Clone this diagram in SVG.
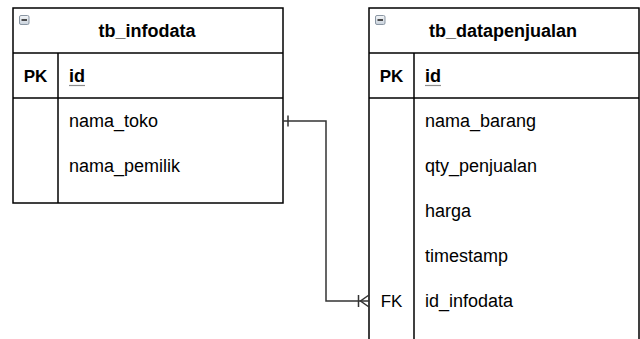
<svg xmlns="http://www.w3.org/2000/svg" width="640" height="339" viewBox="0 0 640 339">
  <defs>
    <linearGradient id="iconFill" x1="0" y1="0" x2="0" y2="1">
      <stop offset="0" stop-color="#f4f6f8"/>
      <stop offset="1" stop-color="#c9d2dc"/>
    </linearGradient>
    <g id="collapse">
      <rect x="0.5" y="0.5" width="9.5" height="9" rx="1.5" fill="url(#iconFill)" stroke="#8a96a3" stroke-width="1"/>
      <line x1="2.5" y1="5" x2="8" y2="5" stroke="#222" stroke-width="1.6"/>
    </g>
  </defs>
  <style>
    .box { fill: #ffffff; stroke: #000000; stroke-width: 1.5; }
    .sep { stroke: #000000; stroke-width: 1.5; fill: none; }
    .title { font-family: "Liberation Sans", Arial, sans-serif; font-size: 18px; font-weight: bold; fill: #000; text-anchor: middle; }
    .key { font-family: "Liberation Sans", Arial, sans-serif; font-size: 17px; font-weight: bold; fill: #000; text-anchor: middle; }
    .pk { font-family: "Liberation Sans", Arial, sans-serif; font-size: 18px; font-weight: bold; fill: #000; }
    .uline { stroke: #8c8c8c; stroke-width: 1.2; }
    .field { font-family: "Liberation Sans", Arial, sans-serif; font-size: 18px; fill: #000; }
    .fk { font-family: "Liberation Sans", Arial, sans-serif; font-size: 17px; fill: #000; text-anchor: middle; }
    .link { stroke: #333333; stroke-width: 1.5; fill: none; }
  </style>
  <rect width="640" height="339" fill="#ffffff"/>

  <!-- table: tb_infodata -->
  <g id="tb_infodata">
    <rect class="box" x="13" y="8" width="270" height="195"/>
    <line class="sep" x1="13" y1="53" x2="283" y2="53"/>
    <line class="sep" x1="13" y1="98" x2="283" y2="98"/>
    <line class="sep" x1="58" y1="53" x2="58" y2="203"/>
    <use href="#collapse" x="19" y="15"/>
    <text class="title" x="147" y="37">tb_infodata</text>
    <text class="key" x="35.5" y="82">PK</text>
    <text class="pk" x="69" y="82">id</text>
    <line class="uline" x1="69" y1="85.5" x2="85" y2="85.5"/>
    <text class="field" x="69" y="127">nama_toko</text>
    <text class="field" x="69" y="172">nama_pemilik</text>
  </g>

  <!-- table: tb_datapenjualan -->
  <g id="tb_datapenjualan">
    <rect class="box" x="369" y="8" width="270" height="340"/>
    <line class="sep" x1="369" y1="53" x2="639" y2="53"/>
    <line class="sep" x1="369" y1="98" x2="639" y2="98"/>
    <line class="sep" x1="414" y1="53" x2="414" y2="348"/>
    <use href="#collapse" x="375" y="15"/>
    <text class="title" x="503" y="37">tb_datapenjualan</text>
    <text class="key" x="391.5" y="82">PK</text>
    <text class="pk" x="425" y="82">id</text>
    <line class="uline" x1="425" y1="85.5" x2="441" y2="85.5"/>
    <text class="field" x="425" y="127">nama_barang</text>
    <text class="field" x="425" y="172">qty_penjualan</text>
    <text class="field" x="425" y="217">harga</text>
    <text class="field" x="425" y="262">timestamp</text>
    <text class="fk" x="391.5" y="307">FK</text>
    <text class="field" x="425" y="307">id_infodata</text>
  </g>

  <!-- relationship: one tb_infodata to many tb_datapenjualan -->
  <g id="connectors">
    <path class="link" d="M283 121 H326 V301 H369"/>
    <line class="link" x1="288" y1="115.5" x2="288" y2="126.5"/>
    <line class="link" x1="358.5" y1="295" x2="358.5" y2="307"/>
    <path class="link" d="M369 295 L360.5 301 L369 307"/>
  </g>
</svg>
